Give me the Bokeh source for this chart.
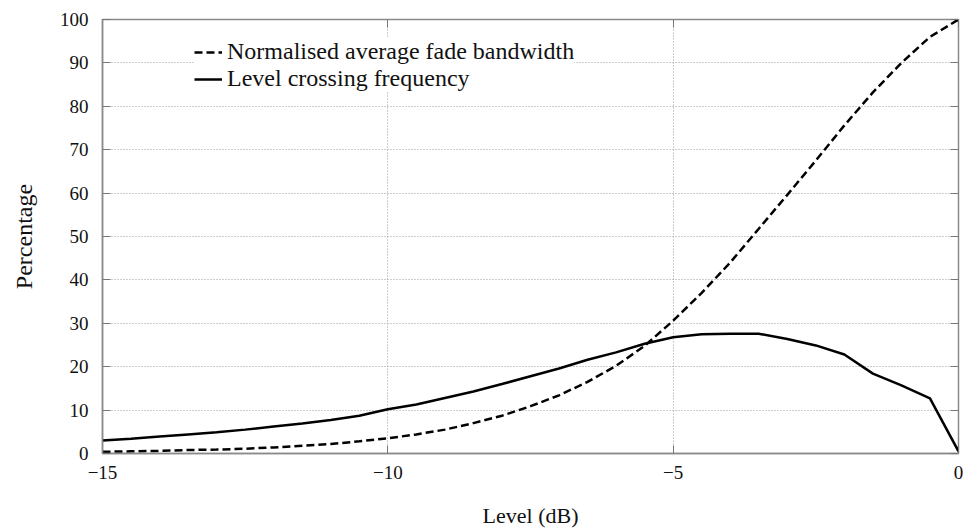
from bokeh.plotting import figure
from bokeh.models import LinearAxis, FixedTicker, Legend, LegendItem, CustomLabelingPolicy
from bokeh.embed import file_html
from bokeh.resources import INLINE

# ---- data ----
level_db = [-15, -14.5, -14, -13.5, -13, -12.5, -12, -11.5, -11, -10.5, -10,
            -9.5, -9, -8.5, -8, -7.5, -7, -6.5, -6, -5.5, -5,
            -4.5, -4, -3.5, -3, -2.5, -2, -1.5, -1, -0.5, 0]
fade_bandwidth = [0.4, 0.5, 0.6, 0.8, 0.9, 1.1, 1.4, 1.8, 2.2, 2.8, 3.5,
                  4.4, 5.5, 7.0, 8.7, 10.9, 13.4, 16.5, 20.2, 24.8, 30.6,
                  37.0, 44.0, 51.8, 59.6, 67.5, 75.6, 83.2, 90.0, 96.0, 100.0]
crossing_freq = [3.0, 3.4, 3.9, 4.4, 4.9, 5.5, 6.2, 6.9, 7.7, 8.7, 10.2,
                 11.3, 12.8, 14.3, 16.0, 17.8, 19.6, 21.6, 23.3, 25.3, 26.8,
                 27.5, 27.6, 27.6, 26.4, 24.9, 22.8, 18.4, 15.7, 12.7, 0.5]
series_names = ["Normalised average fade bandwidth", "Level crossing frequency"]
x_ticks = [-15, -10, -5, 0]
x_tick_labels = ["\u221215", "\u221210", "\u22125", "0"]
y_ticks = [0, 10, 20, 30, 40, 50, 60, 70, 80, 90, 100]
x_title = "Level (dB)"
y_title = "Percentage"

FONT = "Times"
AXIS_GRAY = "#8a8a8a"

p = figure(width=963, height=530, output_backend="svg", toolbar_location=None,
           x_range=(-15, 0), y_range=(0, 100),
           min_border_left=102, min_border_right=0, min_border_top=19,
           min_border_bottom=77)
p.background_fill_color = "white"
p.border_fill_color = "white"
p.outline_line_color = AXIS_GRAY
p.outline_line_width = 1.5

# axes
xa = p.xaxis[0]
xa.ticker = FixedTicker(ticks=x_ticks)
xa.major_label_overrides = {t: l for t, l in zip(x_ticks, x_tick_labels)}
ya = p.yaxis[0]
ya.ticker = FixedTicker(ticks=y_ticks)
for ax in (xa, ya):
    ax.axis_line_color = AXIS_GRAY
    ax.axis_line_width = 1.5
    ax.major_tick_in = 8
    ax.major_tick_out = 0
    ax.major_tick_line_color = "#777777"
    ax.minor_tick_line_color = None
    ax.major_label_text_font = FONT
    ax.major_label_text_font_size = "19px"
    ax.major_label_text_color = "#111111"
    ax.axis_label_text_font = FONT
    ax.axis_label_text_font_style = "normal"
    ax.axis_label_text_color = "#111111"
xa.axis_label_text_font_size = "22px"
ya.axis_label_text_font_size = "24px"
xa.axis_label = x_title
ya.axis_label = y_title
xa.major_label_standoff = 12
ya.major_label_standoff = 14
xa.axis_label_standoff = 21
ya.axis_label_standoff = 20

# mirrored axes with inward ticks, labels hidden by policy
hide_all = CustomLabelingPolicy(code="""
const all = [...indices]
for (const i of all) indices.unset(i)
return indices
""")
for loc, tick_vals in (("right", y_ticks), ("above", x_ticks)):
    ax = LinearAxis(ticker=FixedTicker(ticks=tick_vals))
    ax.axis_line_color = None
    ax.major_tick_in = 8
    ax.major_tick_out = 0
    ax.major_tick_line_color = "#777777"
    ax.minor_tick_line_color = None
    ax.major_label_text_font_size = "1px"
    ax.major_label_standoff = 0
    ax.major_label_policy = hide_all
    p.add_layout(ax, loc)

# grid
p.xgrid.ticker = FixedTicker(ticks=x_ticks)
p.ygrid.ticker = FixedTicker(ticks=y_ticks)
for g in (p.xgrid[0], p.ygrid[0]):
    g.grid_line_color = "#9a9a9a"
    g.grid_line_dash = "1 2"
    g.grid_line_width = 1

r1 = p.line(level_db, fade_bandwidth, line_color="black", line_width=2.5,
            line_dash="8 4")
r2 = p.line(level_db, crossing_freq, line_color="black", line_width=2.5)

legend = Legend(items=[LegendItem(label=series_names[0], renderers=[r1]),
                       LegendItem(label=series_names[1], renderers=[r2])],
                location=(92, 361))
legend.label_text_font = FONT
legend.label_text_font_size = "24px"
legend.label_text_color = "#111111"
legend.glyph_width = 28
legend.glyph_height = 18
legend.label_standoff = 5
legend.spacing = -2
legend.padding = 2
legend.margin = 0
legend.border_line_color = None
legend.background_fill_color = "white"
legend.background_fill_alpha = 1.0
p.add_layout(legend, "center")

open("out.html", "w").write(file_html(p, INLINE))
